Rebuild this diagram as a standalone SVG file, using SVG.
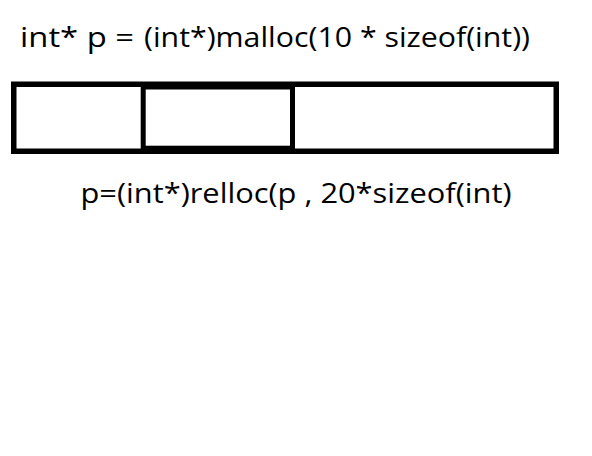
<svg xmlns="http://www.w3.org/2000/svg" width="592" height="456" viewBox="0 0 592 456">
<style>
.t{font-family:"Open Sans","Noto Sans",sans-serif;font-size:28px;fill:#000}
.cell{fill:none;stroke:#000}
</style>
<rect width="592" height="456" fill="#fff"/>
<g id="title">
<text class="t" x="20" y="47.3" textLength="114" lengthAdjust="spacingAndGlyphs">int* p =</text>
<text class="t" x="144" y="47.3" textLength="386" lengthAdjust="spacingAndGlyphs">(int*)malloc(10 * sizeof(int))</text>
</g>
<g id="block">
<rect class="cell" x="13.75" y="84.25" width="542.5" height="67" stroke-width="5.5"/>
</g>
<g id="cell2">
<rect class="cell" x="143.2" y="87" width="149.3" height="61.2" stroke-width="5"/>
</g>
<g id="realloc">
<text class="t" x="80.5" y="203" textLength="431" lengthAdjust="spacingAndGlyphs">p=(int*)relloc(p , 20*sizeof(int)</text>
</g>
<g id="connectors"/>
</svg>
